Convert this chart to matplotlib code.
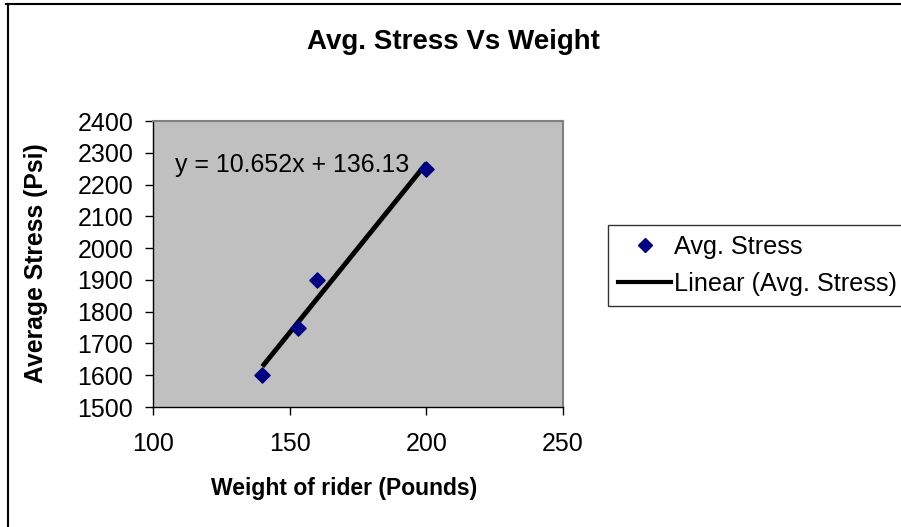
import numpy as np
import matplotlib.pyplot as plt
from matplotlib.lines import Line2D

plt.rcParams['font.family'] = ['Liberation Sans', 'DejaVu Sans']

# data
weight = [140, 153, 160, 200]
stress = [1600, 1750, 1900, 2250]
slope = 10.652
intercept = 136.13
x_ticks = [100, 150, 200, 250]
y_ticks = [1500, 1600, 1700, 1800, 1900, 2000, 2100, 2200, 2300, 2400]

fig = plt.figure(figsize=(9.01, 5.27), dpi=100)
fig.patch.set_facecolor('white')

# chart border (only left and top visible in the reference)
fig.add_artist(Line2D([0.0065, 1.0], [0.993, 0.993], color='black', lw=1.5, transform=fig.transFigure))
fig.add_artist(Line2D([0.0085, 0.0085], [0.0, 0.993], color='black', lw=1.5, transform=fig.transFigure))

ax = fig.add_axes([153 / 901, 1 - 407 / 527, (563 - 153) / 901, (407 - 121) / 527])
ax.set_facecolor('#c0c0c0')

ax.scatter(weight, stress, marker='D', s=60, color='#000080', zorder=3, label='Avg. Stress')

xs = np.array([min(weight), max(weight)])
ax.plot(xs, slope * xs + intercept, color='black', lw=3.5, zorder=2, label='Linear (Avg. Stress)',
        solid_capstyle='butt')

ax.text(108, 2261, 'y = 10.652x + 136.13', fontsize=17.9, color='black', va='center', ha='left')

ax.set_xlim(100, 250)
ax.set_ylim(1500, 2400)
ax.set_xticks(x_ticks)
ax.set_yticks(y_ticks)
ax.tick_params(axis='both', labelsize=18, direction='out', length=5.8, width=1, color='black')
ax.tick_params(axis='x', pad=12)
ax.tick_params(axis='y', pad=8.5)

for side in ['top', 'right']:
    ax.spines[side].set_color('#808080')
    ax.spines[side].set_linewidth(1.5)
for side in ['left', 'bottom']:
    ax.spines[side].set_color('black')
    ax.spines[side].set_linewidth(1)

fig.text(453 / 901, 1 - 42 / 527, 'Avg. Stress Vs Weight', fontsize=20, fontweight='bold',
         ha='center', va='center')
fig.text(344 / 901, 1 - 489 / 527, 'Weight of rider (Pounds)', fontsize=16.5, fontweight='bold',
         ha='center', va='center')
fig.text(36 / 901, 1 - 263 / 527, 'Average Stress (Psi)', fontsize=17.8, fontweight='bold',
         ha='center', va='center', rotation=90)

handles = [
    Line2D([], [], marker='D', color='#000080', linestyle='none', markersize=7.5),
    Line2D([], [], color='black', lw=3),
]
leg = fig.legend(handles, ['Avg. Stress', 'Linear (Avg. Stress)'], loc='upper left',
                 bbox_to_anchor=(608 / 901, 1 - 225 / 527), fontsize=18.2, frameon=True,
                 fancybox=False, edgecolor='black', borderpad=0.4, handlelength=2.1,
                 handletextpad=0.1, labelspacing=0.5, borderaxespad=0)
leg.get_frame().set_linewidth(1)

fig.savefig('out.png', dpi=100)
